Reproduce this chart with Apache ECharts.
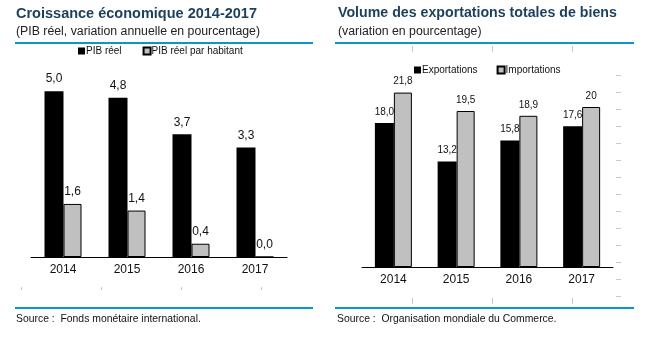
<!DOCTYPE html>
<html>
<head>
<meta charset="utf-8">
<script src="https://cdn.jsdelivr.net/npm/echarts@6/dist/echarts.min.js"></script>
<style>html,body{margin:0;padding:0;background:#fff}#c{width:653px;height:340px}</style>
</head>
<body>
<div id="c"></div>
<script>
var years = ['2014', '2015', '2016', '2017'];
var pibReel = [5.0, 4.8, 3.7, 3.3];
var pibHabitant = [1.6, 1.4, 0.4, 0.0];
var exportations = [18.0, 13.2, 15.8, 17.6];
var importations = [21.8, 19.5, 18.9, 20];
var exportLabels = ['18,0', '13,2', '15,8', '17,6'];
var importLabels = ['21,8', '19,5', '18,9', '20'];
var tickCatsLeft = ['', '', ''];
var tickCatsRight = ['', ''];

var FONT = 'Liberation Sans';
var TITLE_COLOR = '#1B3F5E';
var BLUE = '#0A96C8';
var GREY = '#C0C0C0';
var TICKC = '#C8C8C8';

function fmt1(v) { return v.toFixed(1).replace('.', ','); }

var chart = echarts.init(document.getElementById('c'), null, {renderer: 'canvas'});
var option = {
  animation: false,
  textStyle: {fontFamily: FONT},
  title: [
    {text: 'Croissance économique 2014-2017', left: 16, top: 6, padding: 0,
     textStyle: {fontFamily: FONT, fontSize: 14.5, fontWeight: 'bold', color: TITLE_COLOR}},
    {text: '(PIB réel, variation annuelle en pourcentage)', left: 16, top: 25.5, padding: 0,
     textStyle: {fontFamily: FONT, fontSize: 12.3, fontWeight: 'normal', color: '#222'}},
    {text: 'Volume des exportations totales de biens', left: 338, top: 6, padding: 0,
     textStyle: {fontFamily: FONT, fontSize: 14.2, fontWeight: 'bold', color: TITLE_COLOR}},
    {text: '(variation en pourcentage)', left: 338, top: 25.5, padding: 0,
     textStyle: {fontFamily: FONT, fontSize: 12.3, fontWeight: 'normal', color: '#222'}},
    {text: 'Source :  Fonds monétaire international.', left: 16, top: 314, padding: 0,
     textStyle: {fontFamily: FONT, fontSize: 10.4, fontWeight: 'normal', color: '#111'}},
    {text: 'Source :  Organisation mondiale du Commerce.', left: 337, top: 314, padding: 0,
     textStyle: {fontFamily: FONT, fontSize: 10.4, fontWeight: 'normal', color: '#111'}}
  ],
  graphic: [
    {type: 'rect', shape: {x: 15, y: 42, width: 298, height: 2}, style: {fill: BLUE}},
    {type: 'rect', shape: {x: 15, y: 307, width: 298, height: 2}, style: {fill: BLUE}},
    {type: 'rect', shape: {x: 335, y: 42, width: 299, height: 2}, style: {fill: BLUE}},
    {type: 'rect', shape: {x: 335, y: 307, width: 299, height: 2}, style: {fill: BLUE}}
  ],
  legend: [
    {left: 78, top: 46, padding: 0, itemWidth: 7, itemHeight: 7, itemGap: 21, icon: 'rect',
     textStyle: {fontFamily: FONT, fontSize: 10, color: '#111', padding: [0, 0, 0, -4]},
     data: ['PIB réel', 'PIB réel par habitant']},
    {left: 414, top: 65, padding: 0, itemWidth: 7, itemHeight: 7, itemGap: 19, icon: 'rect',
     textStyle: {fontFamily: FONT, fontSize: 10, color: '#111', padding: [0, 0, 0, -4]},
     data: ['Exportations', 'Importations']}
  ],
  grid: [
    {left: 31, right: 366, top: 58, bottom: 83},
    {left: 362, right: 40, top: 75, bottom: 73},
    {left: 21, right: 392, top: 286, bottom: 53},
    {left: 412, right: 81, top: 52, bottom: 42},
    {left: 400, right: 37, top: 75, bottom: 44}
  ],
  xAxis: [
    {type: 'category', gridIndex: 0, data: years,
     axisLine: {lineStyle: {color: '#000', width: 1}}, axisTick: {show: false},
     axisLabel: {fontFamily: FONT, fontSize: 12, color: '#111', margin: 7}},
    {type: 'category', gridIndex: 1, data: years,
     axisLine: {lineStyle: {color: '#000', width: 1}}, axisTick: {show: false},
     axisLabel: {fontFamily: FONT, fontSize: 12, color: '#111', margin: 7}},
    {type: 'category', gridIndex: 2, data: tickCatsLeft, boundaryGap: true,
     axisLine: {show: false, onZero: false}, axisLabel: {show: false},
     axisTick: {show: true, length: 3, lineStyle: {color: TICKC}}},
    {type: 'category', gridIndex: 3, data: tickCatsRight, position: 'top', boundaryGap: true,
     axisLine: {show: false, onZero: false}, axisLabel: {show: false},
     axisTick: {show: true, length: 6, lineStyle: {color: TICKC}}},
    {type: 'category', gridIndex: 3, data: tickCatsRight, position: 'bottom', boundaryGap: true,
     axisLine: {show: false, onZero: false}, axisLabel: {show: false},
     axisTick: {show: true, length: 6, lineStyle: {color: TICKC}}},
    {type: 'category', gridIndex: 4, data: tickCatsRight, show: false}
  ],
  yAxis: [
    {type: 'value', gridIndex: 0, min: 0, max: 6, show: false},
    {type: 'value', gridIndex: 1, min: 0, max: 24, show: false},
    {type: 'value', gridIndex: 2, min: 0, max: 1, show: false},
    {type: 'value', gridIndex: 3, min: 0, max: 1, show: false},
    {type: 'value', gridIndex: 4, position: 'right', min: 0, max: 13, interval: 1,
     axisLine: {show: false, onZero: false}, axisLabel: {show: false}, splitLine: {show: false},
     axisTick: {show: true, length: 5, lineStyle: {color: TICKC}}}
  ],
  series: [
    {name: 'PIB réel', type: 'bar', xAxisIndex: 0, yAxisIndex: 0, data: pibReel,
     barWidth: 19, barGap: '0%',
     itemStyle: {color: '#000'},
     label: {show: true, position: 'top', distance: 6, fontFamily: FONT, fontSize: 12, color: '#111',
             formatter: function (p) { return fmt1(p.value); }}},
    {name: 'PIB réel par habitant', type: 'bar', xAxisIndex: 0, yAxisIndex: 0, data: pibHabitant,
     barWidth: 18, barGap: '0%',
     itemStyle: {color: GREY, borderColor: '#000', borderWidth: 1},
     label: {show: true, position: 'top', distance: 6, fontFamily: FONT, fontSize: 12, color: '#111',
             formatter: function (p) { return fmt1(p.value); }}},
    {name: 'Exportations', type: 'bar', xAxisIndex: 1, yAxisIndex: 1, data: exportations,
     barWidth: 19, barGap: '0%',
     itemStyle: {color: '#000'},
     label: {show: true, position: 'top', distance: 6, fontFamily: FONT, fontSize: 10, color: '#111',
             formatter: function (p) { return exportLabels[p.dataIndex]; }}},
    {name: 'Importations', type: 'bar', xAxisIndex: 1, yAxisIndex: 1, data: importations,
     barWidth: 18, barGap: '0%',
     itemStyle: {color: GREY, borderColor: '#000', borderWidth: 1},
     label: {show: true, position: 'top', distance: 6, fontFamily: FONT, fontSize: 10, color: '#111',
             formatter: function (p) { return importLabels[p.dataIndex]; }}}
  ]
};
chart.setOption(option);
</script>
</body>
</html>
